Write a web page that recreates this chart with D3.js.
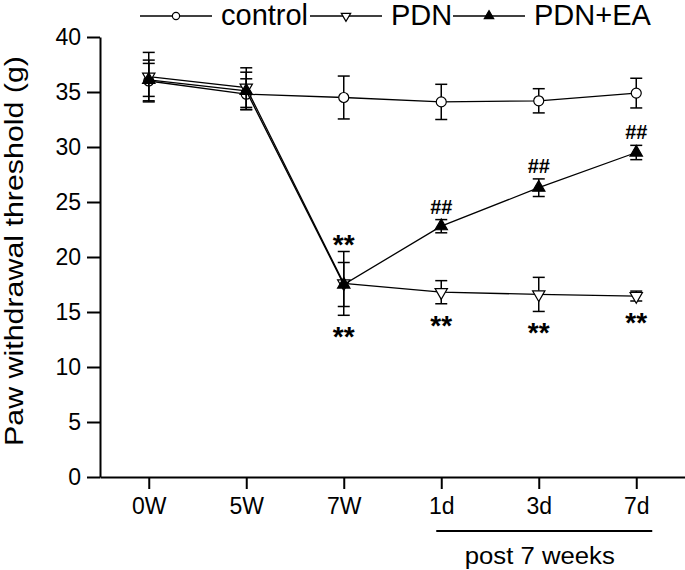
<!DOCTYPE html>
<meta charset="utf-8">
<style type="text/css">
body { margin: 0; background: #fff; }
svg text { font-family: 'Liberation Sans', Arial, Helvetica, sans-serif; fill: #000; }
.axis path, .axis line { stroke: #000; stroke-width: 2px; }
.axis text { font-size: 23px; }
</style>
<body>
<div class="g-chart"></div>
<script src="https://cdnjs.cloudflare.com/ajax/libs/d3/7.8.5/d3.min.js"></script>
<script type="text/javascript">

// time points
var categories = ["0W", "5W", "7W", "1d", "3d", "7d"];
var yTicks = [0, 5, 10, 15, 20, 25, 30, 35, 40];

// mean and error (g)
var control    = [36.0, 34.8, 34.5, 34.1, 34.2, 34.9];
var controlErr = [1.9, 1.4, 1.95, 1.6, 1.1, 1.35];
var pdn        = [36.4, 35.4, 17.6, 16.8, 16.6, 16.45];
var pdnErr     = [2.2, 1.8, 2.9, 1.05, 1.55, 0.45];
var pdnEa      = [36.1, 35.1, 17.5, 22.8, 26.3, 29.5];
var pdnEaErr   = [1.5, 1.7, 2.0, 0.6, 0.8, 0.65];

// significance marks
var hashAt = ["1d", "3d", "7d"];          // ## vs PDN
var starAbove = ["7W"];                   // ** vs control
var starBelow = ["7W", "1d", "3d", "7d"]; // ** vs control

var width = 685, height = 570;

var svg = d3.select(".g-chart").append("svg")
  .attr("width", width)
  .attr("height", height);

//Scales
var x = d3.scalePoint().domain(categories).range([100, 685]).padding(0.5);
var y = d3.scaleLinear().domain([0, 40]).range([477, 37]);

//Axes
var yAxis = d3.axisLeft(y).tickValues(yTicks).tickSize(13).tickPadding(6).tickSizeOuter(0);
svg.append("g").attr("class", "axis")
  .attr("transform", "translate(100,0)")
  .call(yAxis);

var xAxis = d3.axisBottom(x).tickSize(12).tickPadding(9).tickSizeOuter(0);
svg.append("g").attr("class", "axis")
  .attr("transform", "translate(0," + y(0) + ")")
  .call(xAxis);

//Y title
svg.append("text")
  .attr("transform", "translate(23," + (y(20) - 6) + ") rotate(-90)")
  .attr("text-anchor", "middle")
  .attr("textLength", 390)
  .attr("lengthAdjust", "spacingAndGlyphs")
  .style("font-size", "25px")
  .text("Paw withdrawal threshold (g)");

//post 7 weeks bracket
svg.append("line")
  .attr("x1", x("1d") - 5).attr("x2", x("7d") + 16)
  .attr("y1", 531).attr("y2", 531)
  .style("stroke", "#000").style("stroke-width", 2);
svg.append("text")
  .attr("x", x("3d") + 1).attr("y", 564)
  .attr("text-anchor", "middle")
  .attr("textLength", 150)
  .attr("lengthAdjust", "spacingAndGlyphs")
  .style("font-size", "23px")
  .text("post 7 weeks");

var series = [
  {name: "control", mean: control, err: controlErr, marker: "circle"},
  {name: "PDN", mean: pdn, err: pdnErr, marker: "down"},
  {name: "PDN+EA", mean: pdnEa, err: pdnEaErr, marker: "up"}
];

var line = d3.line()
  .x(function(d) { return x(d.cat); })
  .y(function(d) { return y(d.v); });

function drawMarker(g, type, small) {
  if (type === "circle") {
    g.append("circle").attr("r", small ? 3.6 : 5)
      .style("fill", "#fff").style("stroke", "#000").style("stroke-width", 1.2);
  } else {
    var sym = d3.symbol().type(d3.symbolTriangle).size(small ? 38 : 66);
    g.append("path").attr("d", sym)
      .attr("transform", type === "down" ? "rotate(180)" : null)
      .style("fill", type === "down" ? "#fff" : "#000")
      .style("stroke", "#000").style("stroke-width", 1.2);
  }
}

series.forEach(function(s) {
  var pts = categories.map(function(c, i) { return {cat: c, v: s.mean[i], e: s.err[i]}; });
  var g = svg.append("g");

  g.append("path").datum(pts)
    .attr("d", line)
    .style("fill", "none").style("stroke", "#000").style("stroke-width", 1.3);

  //error bars
  var eb = g.selectAll(".eb").data(pts).enter().append("g");
  eb.append("line")
    .attr("x1", function(d) { return x(d.cat); }).attr("x2", function(d) { return x(d.cat); })
    .attr("y1", function(d) { return y(d.v + d.e); }).attr("y2", function(d) { return y(d.v - d.e); });
  eb.append("line")
    .attr("x1", function(d) { return x(d.cat) - 6; }).attr("x2", function(d) { return x(d.cat) + 6; })
    .attr("y1", function(d) { return y(d.v + d.e); }).attr("y2", function(d) { return y(d.v + d.e); });
  eb.append("line")
    .attr("x1", function(d) { return x(d.cat) - 6; }).attr("x2", function(d) { return x(d.cat) + 6; })
    .attr("y1", function(d) { return y(d.v - d.e); }).attr("y2", function(d) { return y(d.v - d.e); });
  eb.selectAll("line").style("stroke", "#000").style("stroke-width", 1.5);

  pts.forEach(function(d) {
    var m = g.append("g").attr("transform", "translate(" + x(d.cat) + "," + y(d.v) + ")");
    drawMarker(m, s.marker, false);
  });
});

//annotations
function idx(c) { return categories.indexOf(c); }

hashAt.forEach(function(c) {
  var i = idx(c);
  svg.append("text")
    .attr("x", x(c)).attr("y", y(pdnEa[i] + pdnEaErr[i]) - 13 + 7)
    .attr("text-anchor", "middle")
    .style("font-size", "20px").style("font-weight", "bold")
    .text("##");
});

starAbove.forEach(function(c) {
  var i = idx(c);
  var top = Math.max(pdn[i] + pdnErr[i], pdnEa[i] + pdnEaErr[i]);
  svg.append("text")
    .attr("x", x(c)).attr("y", y(top) - 14 + 16)
    .attr("text-anchor", "middle")
    .style("font-size", "28px").style("font-weight", "bold")
    .text("**");
});

starBelow.forEach(function(c) {
  var i = idx(c);
  var bot = Math.min(pdn[i] - pdnErr[i], pdnEa[i] - pdnEaErr[i]);
  svg.append("text")
    .attr("x", x(c)).attr("y", y(bot) + 15 + 16)
    .attr("text-anchor", "middle")
    .style("font-size", "28px").style("font-weight", "bold")
    .text("**");
});

//Legend
var legendX = [140, 310, 453];
var legend = svg.append("g");
series.forEach(function(s, i) {
  var lg = legend.append("g").attr("transform", "translate(" + legendX[i] + ",16)");
  lg.append("line").attr("x1", 0).attr("x2", 72).attr("y1", 0).attr("y2", 0)
    .style("stroke", "#000").style("stroke-width", 1.3);
  var m = lg.append("g").attr("transform", "translate(36,0)");
  drawMarker(m, s.marker, true);
  lg.append("text").attr("x", 81).attr("y", 9)
    .style("font-size", "29px")
    .text(s.name);
});

</script>
</body>
